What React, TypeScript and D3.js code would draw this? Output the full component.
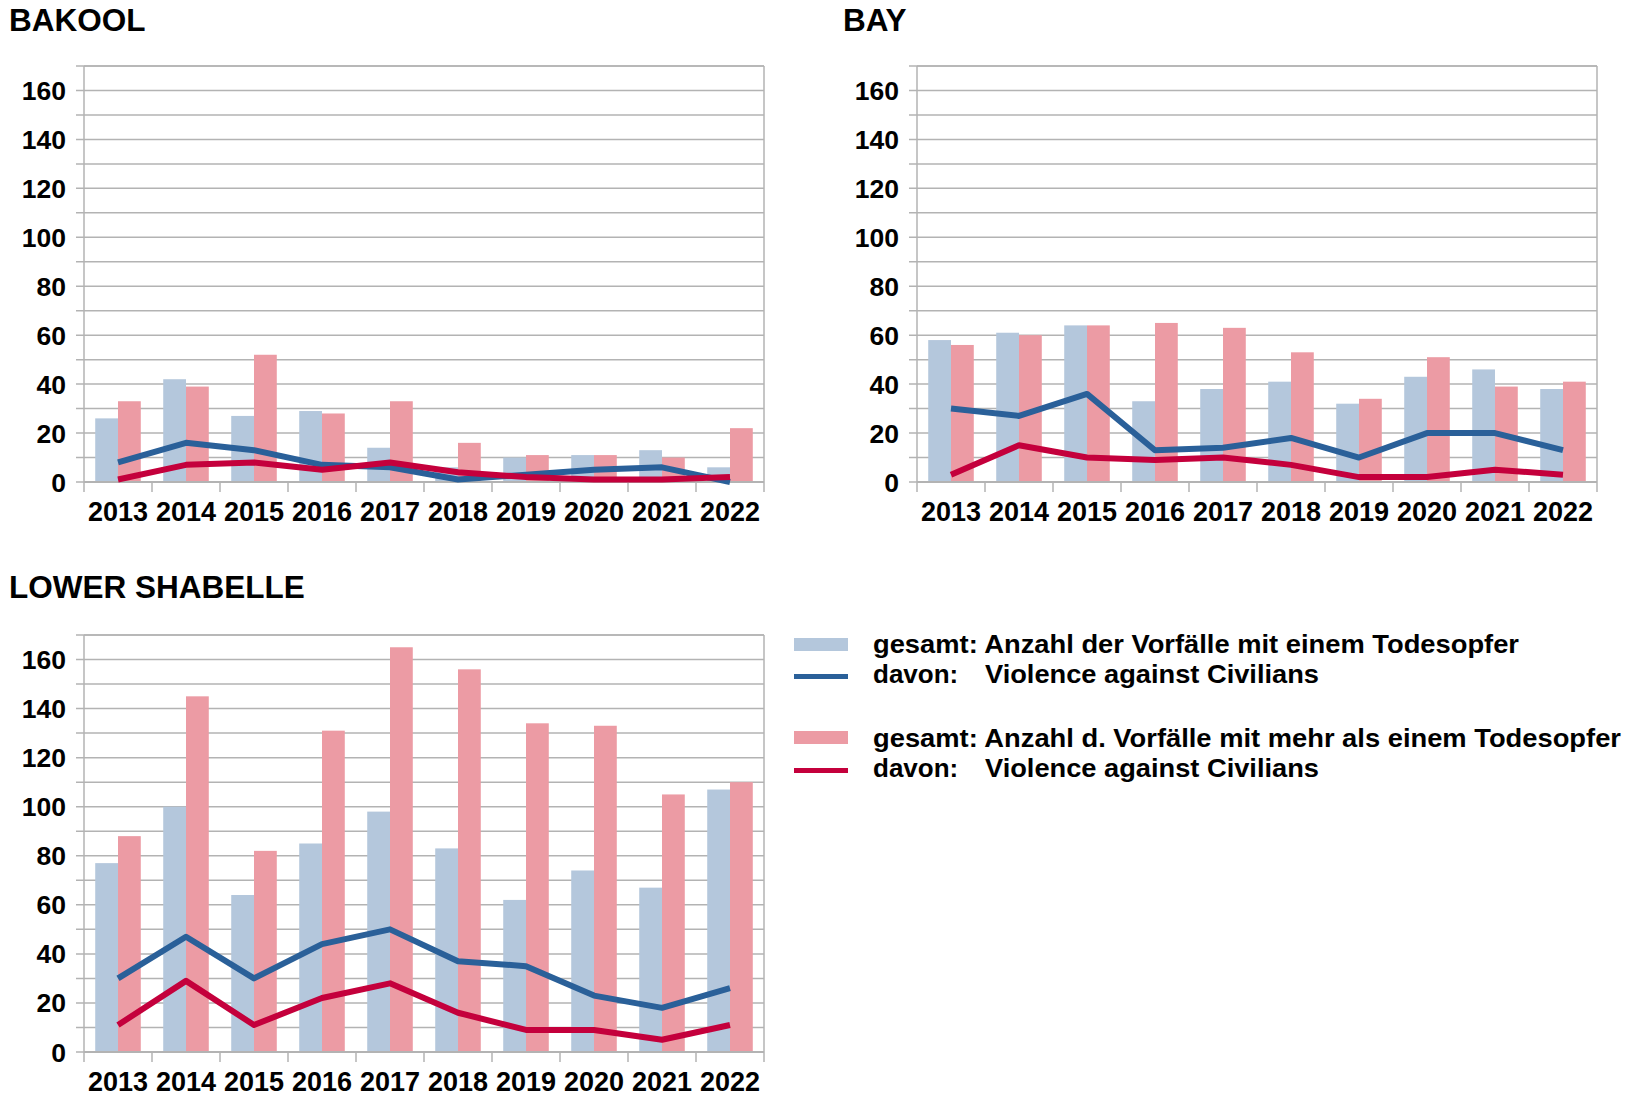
import React from 'react';
import * as d3 from 'd3';

const years = ['2013', '2014', '2015', '2016', '2017', '2018', '2019', '2020', '2021', '2022'];
const yTicks = [0, 20, 40, 60, 80, 100, 120, 140, 160];

// BAKOOL
const bakoolOne = [26, 42, 27, 29, 14, 6, 10, 11, 13, 6];
const bakoolMulti = [33, 39, 52, 28, 33, 16, 11, 11, 10, 22];
const bakoolOneVac = [8, 16, 13, 7, 6, 1, 3, 5, 6, 0];
const bakoolMultiVac = [1, 7, 8, 5, 8, 4, 2, 1, 1, 2];

// BAY
const bayOne = [58, 61, 64, 33, 38, 41, 32, 43, 46, 38];
const bayMulti = [56, 60, 64, 65, 63, 53, 34, 51, 39, 41];
const bayOneVac = [30, 27, 36, 13, 14, 18, 10, 20, 20, 13];
const bayMultiVac = [3, 15, 10, 9, 10, 7, 2, 2, 5, 3];

// LOWER SHABELLE
const lsOne = [77, 100, 64, 85, 98, 83, 62, 74, 67, 107];
const lsMulti = [88, 145, 82, 131, 165, 156, 134, 133, 105, 110];
const lsOneVac = [30, 47, 30, 44, 50, 37, 35, 23, 18, 26];
const lsMultiVac = [11, 29, 11, 22, 28, 16, 9, 9, 5, 11];

const legendLabels = [
  'gesamt: Anzahl der Vorfälle mit einem Todesopfer',
  'Violence against Civilians',
  'gesamt: Anzahl d. Vorfälle mit mehr als einem Todesopfer',
  'Violence against Civilians',
];

const C = {
  barOne: '#b4c7dc',
  barMulti: '#ec9ba4',
  lineOne: '#2a6099',
  lineMulti: '#c4003c',
  grid: '#b3b3b3',
};

const FONT = '"Liberation Sans", Arial, sans-serif';

interface PanelProps {
  title: string;
  titleX: number;
  titleY: number;
  left: number;
  top: number;
  width: number;
  height: number;
  one: number[];
  multi: number[];
  oneVac: number[];
  multiVac: number[];
}

const Panel: React.FC<PanelProps> = ({ title, titleX, titleY, left, top, width, height, one, multi, oneVac, multiVac }) => {
  const x = d3.scaleBand<string>().domain(years).range([left, left + width]).padding(0);
  const bw = x.bandwidth();
  const gw = bw * 0.67;
  const sub = d3.scaleBand<string>().domain(['one', 'multi']).range([(bw - gw) / 2, (bw + gw) / 2]).padding(0);
  const y = d3.scaleLinear().domain([0, 170]).range([top + height, top]);
  const gridVals = d3.range(0, 171, 10);
  const cx = (i: number) => (x(years[i]) as number) + bw / 2;
  const line = d3
    .line<number>()
    .x((_, i) => cx(i))
    .y((d) => y(d));

  return (
    <g>
      <text x={titleX} y={titleY} fontFamily={FONT} fontWeight="bold" fontSize={31.5} fill="#000">
        {title}
      </text>
      {/* gridlines */}
      {gridVals.map((v) => (
        <line key={v} x1={left - 8} x2={left + width} y1={y(v)} y2={y(v)} stroke={C.grid} strokeWidth={1.5} />
      ))}
      {/* frame */}
      <line x1={left} x2={left} y1={top} y2={top + height + 10} stroke={C.grid} strokeWidth={1.5} />
      <line x1={left + width} x2={left + width} y1={top} y2={top + height + 10} stroke={C.grid} strokeWidth={1.5} />
      <line x1={left} x2={left + width} y1={top} y2={top} stroke={C.grid} strokeWidth={1.5} />
      {years.slice(1).map((yr) => (
        <line key={yr} x1={x(yr)} x2={x(yr)} y1={top + height} y2={top + height + 10} stroke={C.grid} strokeWidth={1.5} />
      ))}
      {/* bars */}
      {years.map((yr, i) => (
        <g key={yr}>
          <rect
            x={(x(yr) as number) + (sub('one') as number)}
            y={y(one[i])}
            width={sub.bandwidth()}
            height={y(0) - y(one[i])}
            fill={C.barOne}
          />
          <rect
            x={(x(yr) as number) + (sub('multi') as number)}
            y={y(multi[i])}
            width={sub.bandwidth()}
            height={y(0) - y(multi[i])}
            fill={C.barMulti}
          />
        </g>
      ))}
      <line x1={left} x2={left + width} y1={y(0)} y2={y(0)} stroke={C.grid} strokeWidth={2} />
      {/* lines */}
      <path d={line(oneVac) as string} fill="none" stroke={C.lineOne} strokeWidth={6} strokeLinejoin="round" />
      <path d={line(multiVac) as string} fill="none" stroke={C.lineMulti} strokeWidth={6} strokeLinejoin="round" />
      {/* y labels */}
      {yTicks.map((v) => (
        <text
          key={v}
          x={left - 18}
          y={y(v)}
          dy="0.36em"
          textAnchor="end"
          fontFamily={FONT}
          fontWeight="bold"
          fontSize={26.5}
          fill="#000"
        >
          {v}
        </text>
      ))}
      {/* x labels */}
      {years.map((yr, i) => (
        <text
          key={yr}
          x={cx(i)}
          y={top + height + 39}
          textAnchor="middle"
          fontFamily={FONT}
          fontWeight="bold"
          fontSize={27}
          fill="#000"
        >
          {yr}
        </text>
      ))}
    </g>
  );
};

const Legend: React.FC = () => {
  const rows = [653, 683, 746.5, 776.5];
  const sx = 794;
  const sw = 54;
  const tx = 873;
  const vx = 985;
  const txt = { fontFamily: FONT, fontWeight: 'bold' as const, fontSize: 26, fill: '#000' };
  return (
    <g>
      <rect x={sx} y={638} width={sw} height={13} fill={C.barOne} />
      <line x1={sx} x2={sx + sw} y1={676.5} y2={676.5} stroke={C.lineOne} strokeWidth={5} />
      <rect x={sx} y={731} width={sw} height={13} fill={C.barMulti} />
      <line x1={sx} x2={sx + sw} y1={770.5} y2={770.5} stroke={C.lineMulti} strokeWidth={5} />
      <text x={tx} y={rows[0]} textLength={646} lengthAdjust="spacingAndGlyphs" {...txt}>{legendLabels[0]}</text>
      <text x={tx} y={rows[1]} {...txt}>davon:</text>
      <text x={vx} y={rows[1]} textLength={334} lengthAdjust="spacingAndGlyphs" {...txt}>{legendLabels[1]}</text>
      <text x={tx} y={rows[2]} textLength={748} lengthAdjust="spacingAndGlyphs" {...txt}>{legendLabels[2]}</text>
      <text x={tx} y={rows[3]} {...txt}>davon:</text>
      <text x={vx} y={rows[3]} textLength={334} lengthAdjust="spacingAndGlyphs" {...txt}>{legendLabels[3]}</text>
    </g>
  );
};

export default function App() {
  return (
    <svg
      width={1630}
      height={1101}
      style={{ position: 'absolute', left: 0, top: 0, background: '#fff' }}
    >
      <rect width={1630} height={1101} fill="#fff" />
      <Panel
        title="BAKOOL"
        titleX={9}
        titleY={31}
        left={84}
        top={66}
        width={680}
        height={416}
        one={bakoolOne}
        multi={bakoolMulti}
        oneVac={bakoolOneVac}
        multiVac={bakoolMultiVac}
      />
      <Panel
        title="BAY"
        titleX={843}
        titleY={31}
        left={917}
        top={66}
        width={680}
        height={416}
        one={bayOne}
        multi={bayMulti}
        oneVac={bayOneVac}
        multiVac={bayMultiVac}
      />
      <Panel
        title="LOWER SHABELLE"
        titleX={9}
        titleY={598}
        left={84}
        top={635}
        width={680}
        height={417}
        one={lsOne}
        multi={lsMulti}
        oneVac={lsOneVac}
        multiVac={lsMultiVac}
      />
      <Legend />
    </svg>
  );
}
